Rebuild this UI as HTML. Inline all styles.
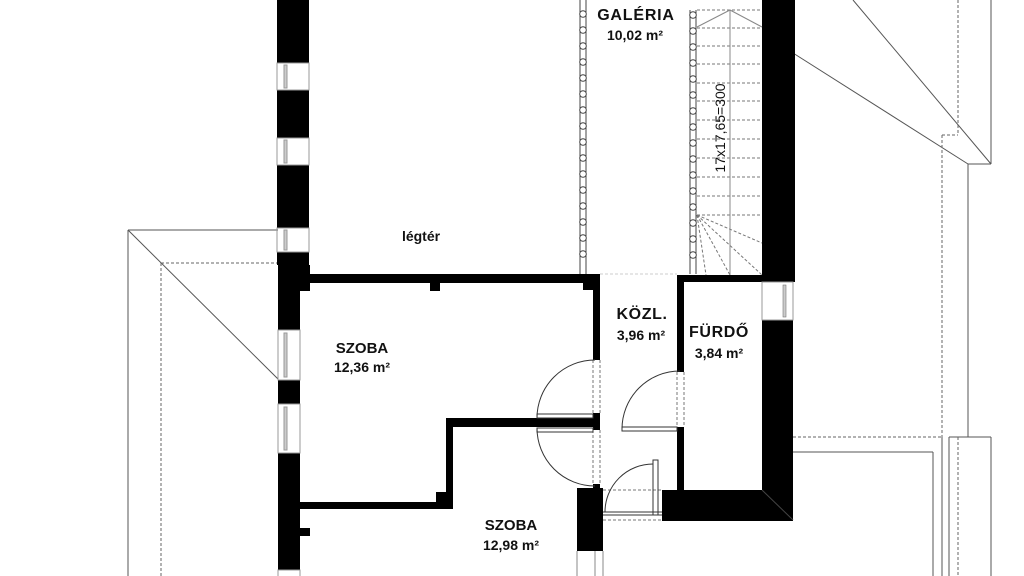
<!DOCTYPE html>
<html><head><meta charset="utf-8"><style>
html,body{margin:0;padding:0;background:#fff;width:1024px;height:576px;overflow:hidden}
svg{display:block}
text{font-family:"Liberation Sans",Arial,sans-serif;font-weight:bold;fill:#111}
</style></head><body>
<svg width="1024" height="576" viewBox="0 0 1024 576" xmlns="http://www.w3.org/2000/svg">
<!-- exterior roof lines right -->
<g fill="none" stroke="#555" stroke-width="1">
<line x1="853" y1="0" x2="991" y2="164"/>
<line x1="793" y1="53" x2="968" y2="164"/>
<line x1="991" y1="0" x2="991" y2="164"/>
<line x1="968" y1="164" x2="991" y2="164"/>
<line x1="968" y1="164" x2="968" y2="437"/>
<line x1="949" y1="437" x2="991" y2="437"/>
<line x1="949" y1="437" x2="949" y2="576"/>
<line x1="991" y1="437" x2="991" y2="576"/>
<line x1="793" y1="452" x2="933" y2="452"/>
<line x1="933" y1="452" x2="933" y2="576"/>
<line x1="942" y1="437" x2="942" y2="576"/>
</g>
<g fill="none" stroke="#666" stroke-width="1" stroke-dasharray="3,2">
<line x1="958" y1="0" x2="958" y2="135"/>
<line x1="942" y1="135" x2="958" y2="135"/>
<line x1="942" y1="135" x2="942" y2="437"/>
<line x1="793" y1="437" x2="942" y2="437"/>
<line x1="958" y1="437" x2="958" y2="576"/>
</g>
<!-- exterior left -->
<g fill="none" stroke="#555" stroke-width="1">
<line x1="128" y1="230" x2="278" y2="230"/>
<line x1="128" y1="230" x2="128" y2="576"/>
<line x1="128" y1="230" x2="278" y2="379"/>
</g>
<g fill="none" stroke="#666" stroke-width="1" stroke-dasharray="3,2">
<line x1="161" y1="263" x2="278" y2="263"/>
<line x1="161" y1="263" x2="161" y2="576"/>
</g>

<!-- left wall -->
<g fill="#000">
<rect x="277" y="0" width="32" height="63"/>
<rect x="277" y="90" width="32" height="48"/>
<rect x="277" y="165" width="32" height="63"/>
<rect x="277" y="252" width="32" height="13"/>
<rect x="278" y="265" width="22" height="65"/>
<rect x="300" y="265" width="10" height="26"/>
<rect x="278" y="380" width="22" height="24"/>
<rect x="278" y="453" width="22" height="117"/>
<rect x="300" y="528" width="10" height="8"/>
</g>
<!-- left windows -->
<g fill="none" stroke="#999" stroke-width="1">
<rect x="277" y="63" width="32" height="27"/><rect x="284" y="65" width="3" height="23" fill="#ccc"/>
<rect x="277" y="138" width="32" height="27"/><rect x="284" y="140" width="3" height="23" fill="#ccc"/>
<rect x="277" y="228" width="32" height="24"/><rect x="284" y="230" width="3" height="20" fill="#ccc"/>
<rect x="278" y="330" width="22" height="50"/><rect x="284" y="333" width="3" height="44" fill="#ccc"/>
<rect x="278" y="404" width="22" height="49"/><rect x="284" y="407" width="3" height="43" fill="#ccc"/>
<rect x="278" y="570" width="22" height="10"/>
</g>

<!-- interior walls -->
<g fill="#000">
<rect x="300" y="274" width="300" height="9"/>
<rect x="430" y="282" width="10" height="9"/>
<rect x="583" y="274" width="17" height="16"/>
<rect x="593" y="283" width="7" height="77"/>
<rect x="593" y="413" width="7" height="17"/>
<rect x="446" y="418" width="150" height="9"/>
<rect x="446" y="418" width="7" height="91"/>
<rect x="300" y="502" width="153" height="7"/>
<rect x="436" y="492" width="10" height="10"/>
<rect x="593" y="484" width="7" height="6"/>
<rect x="577" y="488" width="26" height="63"/>
<rect x="677" y="275" width="85" height="7"/>
<rect x="677" y="275" width="7" height="97"/>
<rect x="677" y="427" width="7" height="63"/>
<rect x="662" y="490" width="131" height="31"/>
<rect x="762" y="0" width="33" height="282"/>
<rect x="762" y="320" width="31" height="200"/>
</g>
<line x1="762" y1="490" x2="793" y2="520" stroke="#444" stroke-width="1"/>
<rect x="762" y="282" width="31" height="38" fill="#fff" stroke="#999"/>
<rect x="783" y="285" width="3" height="32" fill="#ccc" stroke="#777" stroke-width="0.6"/>
<g fill="none" stroke="#888" stroke-width="1">
<line x1="577" y1="551" x2="577" y2="576"/><line x1="603" y1="551" x2="603" y2="576"/><line x1="595" y1="551" x2="595" y2="576"/>
</g>

<g fill="none" stroke="#777" stroke-width="1" stroke-dasharray="3,2">
<line x1="593" y1="360" x2="593" y2="413"/><line x1="600" y1="360" x2="600" y2="413"/>
<line x1="593" y1="430" x2="593" y2="484"/><line x1="600" y1="430" x2="600" y2="484"/>
<line x1="677" y1="372" x2="677" y2="427"/><line x1="684" y1="372" x2="684" y2="427"/>
<line x1="603" y1="490" x2="662" y2="490"/>
<line x1="603" y1="520" x2="662" y2="520"/>
<line x1="600" y1="274" x2="677" y2="274" stroke="#ccc"/>
</g>
<g fill="none" stroke="#333" stroke-width="1">
<path d="M595 360 A58 58 0 0 0 537 418"/>
<rect x="537" y="414" width="56" height="4"/>
<path d="M537 428 A58 58 0 0 0 595 486"/>
<rect x="537" y="428" width="56" height="4"/>
<path d="M680 371 A58 58 0 0 0 622 429"/>
<rect x="622" y="427" width="55" height="4"/>
<path d="M653 464 A48 48 0 0 0 605 512"/>
<rect x="653" y="460" width="5" height="55"/>
<line x1="603" y1="512" x2="662" y2="512"/><line x1="603" y1="515" x2="662" y2="515"/>
</g>

<g fill="none" stroke="#444" stroke-width="1">
<line x1="580" y1="0" x2="580" y2="274"/><line x1="586" y1="0" x2="586" y2="274"/>
<line x1="690" y1="10" x2="690" y2="274"/><line x1="696" y1="10" x2="696" y2="274"/>
</g>
<g fill="#fff" stroke="#444" stroke-width="1">
<circle cx="583" cy="14" r="3.3"/><circle cx="583" cy="30" r="3.3"/><circle cx="583" cy="46" r="3.3"/><circle cx="583" cy="62" r="3.3"/><circle cx="583" cy="78" r="3.3"/><circle cx="583" cy="94" r="3.3"/><circle cx="583" cy="110" r="3.3"/><circle cx="583" cy="126" r="3.3"/><circle cx="583" cy="142" r="3.3"/><circle cx="583" cy="158" r="3.3"/><circle cx="583" cy="174" r="3.3"/><circle cx="583" cy="190" r="3.3"/><circle cx="583" cy="206" r="3.3"/><circle cx="583" cy="222" r="3.3"/><circle cx="583" cy="238" r="3.3"/><circle cx="583" cy="254" r="3.3"/>
<circle cx="693" cy="15" r="3.3"/><circle cx="693" cy="31" r="3.3"/><circle cx="693" cy="47" r="3.3"/><circle cx="693" cy="63" r="3.3"/><circle cx="693" cy="79" r="3.3"/><circle cx="693" cy="95" r="3.3"/><circle cx="693" cy="111" r="3.3"/><circle cx="693" cy="127" r="3.3"/><circle cx="693" cy="143" r="3.3"/><circle cx="693" cy="159" r="3.3"/><circle cx="693" cy="175" r="3.3"/><circle cx="693" cy="191" r="3.3"/><circle cx="693" cy="207" r="3.3"/><circle cx="693" cy="223" r="3.3"/><circle cx="693" cy="239" r="3.3"/><circle cx="693" cy="255" r="3.3"/>
</g>
<g fill="none" stroke="#777" stroke-width="1" stroke-dasharray="3,2">
<line x1="697" y1="10" x2="762" y2="10"/><line x1="697" y1="28" x2="762" y2="28"/><line x1="697" y1="46" x2="762" y2="46"/><line x1="697" y1="64" x2="762" y2="64"/><line x1="697" y1="83" x2="762" y2="83"/><line x1="697" y1="101" x2="762" y2="101"/><line x1="697" y1="120" x2="762" y2="120"/><line x1="697" y1="139" x2="762" y2="139"/><line x1="697" y1="158" x2="762" y2="158"/><line x1="697" y1="177" x2="762" y2="177"/><line x1="697" y1="196" x2="762" y2="196"/><line x1="697" y1="215" x2="762" y2="215"/>
<line x1="697" y1="215" x2="762" y2="243"/><line x1="697" y1="215" x2="762" y2="275"/><line x1="697" y1="215" x2="730" y2="275"/><line x1="697" y1="215" x2="706" y2="275"/>
</g>
<g fill="none" stroke="#888" stroke-width="1">
<line x1="730" y1="10" x2="730" y2="275"/>
<polyline points="697,27 730,10 762,27"/>
</g>

<text x="636" y="20" font-size="16" text-anchor="middle" letter-spacing="0.8">GALÉRIA</text>
<text x="635" y="40" font-size="14" text-anchor="middle">10,02 m²</text>
<text x="421" y="241" font-size="14" text-anchor="middle">légtér</text>
<text x="642" y="319" font-size="16" text-anchor="middle" letter-spacing="0.6">KÖZL.</text>
<text x="641" y="340" font-size="14" text-anchor="middle">3,96 m²</text>
<text x="719" y="337" font-size="16" text-anchor="middle" letter-spacing="0.6">FÜRDŐ</text>
<text x="719" y="358" font-size="14" text-anchor="middle">3,84 m²</text>
<text x="362" y="353" font-size="15" text-anchor="middle">SZOBA</text>
<text x="362" y="372" font-size="14" text-anchor="middle">12,36 m²</text>
<text x="511" y="530" font-size="15" text-anchor="middle">SZOBA</text>
<text x="511" y="550" font-size="14" text-anchor="middle">12,98 m²</text>
<text transform="translate(725,128) rotate(-90)" font-size="14" text-anchor="middle" style="font-weight:normal">17x17,65=300</text>
</svg>
</body></html>
